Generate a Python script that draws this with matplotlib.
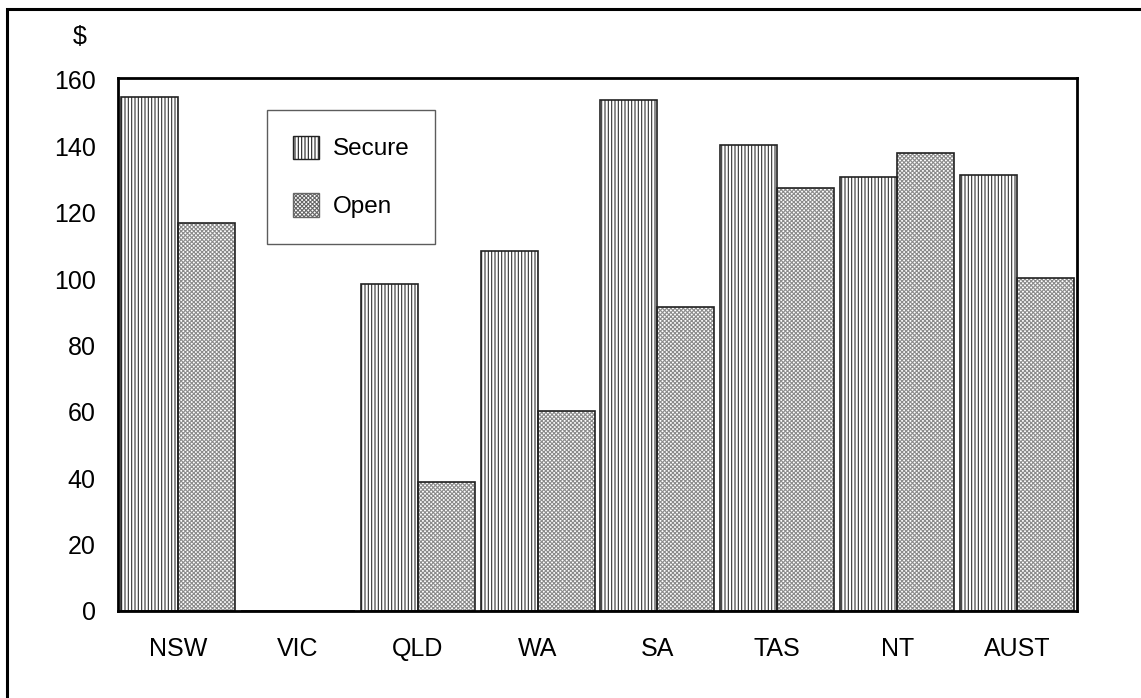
import matplotlib
matplotlib.use("Agg")
import matplotlib.pyplot as plt
import numpy as np
from matplotlib.patches import Rectangle

plt.rcParams['font.family'] = ['Liberation Sans', 'DejaVu Sans']
plt.rcParams['hatch.linewidth'] = 0.8

categories = ["NSW", "VIC", "QLD", "WA", "SA", "TAS", "NT", "AUST"]
secure = [155.0, 0, 98.5, 108.4, 153.9, 140.4, 130.7, 131.3]
open_ = [117.0, 0, 38.9, 60.2, 91.6, 127.4, 138.0, 100.3]
yticks = [0, 20, 40, 60, 80, 100, 120, 140, 160]

W, H = 1141, 698
fig = plt.figure(figsize=(W / 100, H / 100), dpi=100)
ax = fig.add_axes([118 / W, 1 - 611 / H, (1077 - 118) / W, (611 - 78) / H])

x = np.arange(len(categories))
bw = 0.475
# hatch layers (hatch colour comes from edgecolor)
ax.bar(x - bw / 2, secure, bw, facecolor='white', edgecolor='#333333', hatch='|||||', linewidth=0)
ax.bar(x + bw / 2, open_, bw, facecolor='white', edgecolor='#8a8a8a', hatch='xxxxxxxx', linewidth=0)
# outlines
ax.bar(x - bw / 2, secure, bw, fill=False, edgecolor='#222222', linewidth=1.2)
ax.bar(x + bw / 2, open_, bw, fill=False, edgecolor='#222222', linewidth=1.2)

ax.set_xlim(-0.5, len(categories) - 0.5)
ax.set_ylim(0, 160.6)
ax.set_yticks(yticks)
ax.set_xticks(x)
ax.set_xticklabels(categories)
ax.tick_params(axis='both', length=0, labelsize=18)
ax.tick_params(axis='y', pad=16)
ax.tick_params(axis='x', pad=19)
for s in ax.spines.values():
    s.set_linewidth(2)
    s.set_color('black')
    s.set_zorder(5)

fig.text(80 / W, 1 - 37 / H, "$", fontsize=18, ha='center', va='center')

# legend with proxy handles
h1 = Rectangle((0, 0), 1, 1, facecolor='white', edgecolor='#222222', hatch='|||||', linewidth=1.0)
h2 = Rectangle((0, 0), 1, 1, facecolor='white', edgecolor='#666666', hatch='xxxxxxxx', linewidth=1.0)
leg = ax.legend([h1, h2], ['Secure', 'Open'], loc='upper left',
                bbox_to_anchor=((267 - 118) / (1077 - 118), 1 - (110 - 78) / (611 - 78)),
                frameon=True, fancybox=False, fontsize=17.5, borderpad=1.05, labelspacing=1.35,
                handlelength=1.1, handleheight=1.1, handletextpad=0.55, borderaxespad=0)
leg.get_frame().set_edgecolor('#333333')
leg.get_frame().set_linewidth(1.0)

fig.patches.append(Rectangle((7 / W, -0.05), 1.1, 1 - 9 / H + 0.05, transform=fig.transFigure,
                             fill=False, edgecolor='black', linewidth=2.2))

fig.savefig("out.png", dpi=100)
